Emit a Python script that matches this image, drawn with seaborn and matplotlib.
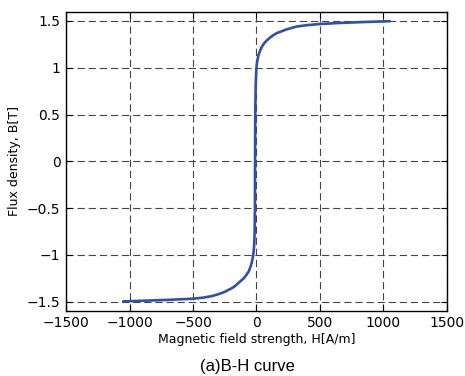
import matplotlib
matplotlib.use("Agg")
import matplotlib.pyplot as plt
import seaborn as sns
import pandas as pd

# Data
H_values = [-1050, -900, -700, -500, -420, -350, -300, -250, -200, -175, -150,
            -125, -100, -80, -60, -45, -35, -25, -18, -14, -12, -11, -9, -6,
            -3, 0, 5, 15, 28, 45, 60, 80, 106, 130, 160, 200, 238, 316, 400,
            490, 650, 840, 1050]
B_values = [-1.497, -1.49, -1.481, -1.468, -1.457, -1.44, -1.42, -1.395, -1.36,
            -1.34, -1.31, -1.28, -1.25, -1.215, -1.175, -1.12, -1.07, -1.0,
            -0.9, -0.75, -0.5, 0.0, 0.55, 0.8, 0.92, 1.0, 1.06, 1.13, 1.18,
            1.23, 1.26, 1.29, 1.32, 1.345, 1.37, 1.39, 1.41, 1.44, 1.455,
            1.466, 1.478, 1.488, 1.497]
x_ticks = [-1500, -1000, -500, 0, 500, 1000, 1500]
x_tick_labels = ["\u22121500", "\u22121000", "\u2212500", "0", "500", "1000", "1500"]
y_ticks = [-1.5, -1, -0.5, 0, 0.5, 1, 1.5]
y_tick_labels = ["\u22121.5", "\u22121", "\u22120.5", "0", "0.5", "1", "1.5"]
x_label = "Magnetic field strength, H[A/m]"
y_label = "Flux density, B[T]"
caption = "(a)B-H curve"

sns.set_style("ticks")
plt.rcParams["font.family"] = ["DejaVu Sans"]
plt.rcParams["text.color"] = "black"
plt.rcParams["axes.labelcolor"] = "black"
plt.rcParams["xtick.color"] = "black"
plt.rcParams["ytick.color"] = "black"

df = pd.DataFrame({"H": H_values, "B": B_values})

fig = plt.figure(figsize=(4.65, 3.76), dpi=100)
ax = fig.add_axes([0.142, 0.174, 0.819, 0.794])

sns.lineplot(data=df, x="H", y="B", sort=False, ax=ax, color="#2F4FA8",
             linewidth=1.9, zorder=3)

ax.set_xlim(-1500, 1500)
ax.set_ylim(-1.595, 1.595)
ax.set_xticks(x_ticks)
ax.set_xticklabels(x_tick_labels, fontsize=10)
ax.set_yticks(y_ticks)
ax.set_yticklabels(y_tick_labels, fontsize=10)
ax.tick_params(direction="in", top=True, right=True, length=4, width=0.8,
               color="black", labelcolor="black", pad=4)
ax.grid(True, color="#444444", linestyle=(0, (6.5, 3.5)), linewidth=0.8)
for s in ax.spines.values():
    s.set_visible(True)
    s.set_color("black")
    s.set_linewidth(1.0)

ax.set_xlabel(x_label, fontsize=9, labelpad=2, color="black")
ax.set_ylabel(y_label, fontsize=9, labelpad=4, color="black")

fig.text(0.533, 0.024, caption, ha="center", va="center", fontsize=12,
         family="Liberation Sans", color="black")

fig.savefig("out.png", dpi=100)
